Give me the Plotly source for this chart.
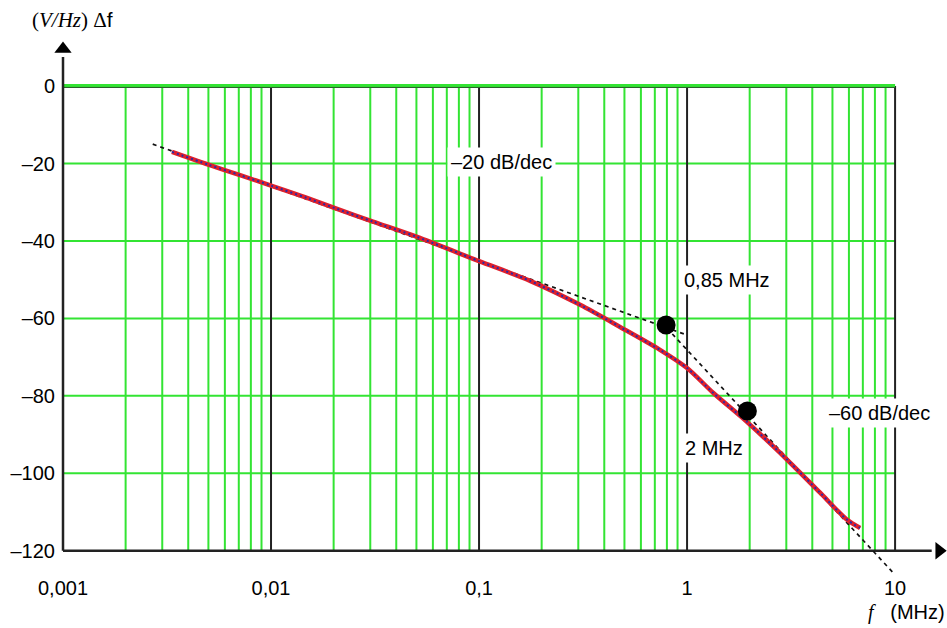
import math
import plotly.graph_objects as go

# ---------------- data ----------------
freq_mhz = [0.00334, 0.005, 0.0071, 0.01, 0.0149, 0.02, 0.0309, 0.05,
            0.1, 0.176, 0.306, 0.476, 0.741, 1.0, 1.334, 1.94, 3.03, 4.36,
            5.88, 6.79]
gain_db = [-17.0, -20.3, -23.0, -25.7, -28.9, -31.4, -35.0, -38.9,
           -45.2, -50.3, -56.5, -62.2, -68.1, -72.8, -79.2, -86.7, -96.5,
           -105.0, -112.0, -114.1]

asym20_f = [0.0027, 1.0]
asym20_db = [-15.0, -64.3]
asym60_f = [0.8, 9.8]
asym60_db = [-62.5, -125.7]

corner_f = [0.793, 1.95]
corner_db = [-61.7, -83.9]

x_ticks = [0.001, 0.01, 0.1, 1, 10]
x_ticktext = ["0,001", "0,01", "0,1", "1", "10"]
y_ticks = [0, -20, -40, -60, -80, -100, -120]
y_ticktext = ["0", "–20", "–40", "–60", "–80", "–100", "–120"]

labels = [
    ("–20 dB/dec", 0.070, -19.6),
    ("0,85 MHz", 0.925, -50.1),
    ("2 MHz", 0.93, -93.4),
    ("–60 dB/dec", 4.6, -84.4),
]

GREEN = "#33e433"
DARK = "#222222"
FONT = "Liberation Sans, Arial, sans-serif"
SERIF = "Liberation Serif, Times New Roman, serif"

fig = go.Figure()

def add_lines(xs, ys, color, width, dash=None, clip=True):
    fig.add_trace(go.Scatter(x=xs, y=ys, mode="lines", cliponaxis=clip,
                             line=dict(color=color, width=width, dash=dash),
                             hoverinfo="skip", showlegend=False))

# minor vertical grid lines (green)
gx, gy = [], []
for d in [0.001, 0.01, 0.1, 1]:
    for k in range(2, 10):
        gx += [k * d, k * d, None]
        gy += [-120, 0, None]
add_lines(gx, gy, GREEN, 2)
# horizontal grid lines (green)
hx, hy = [], []
for v in [-20, -40, -60, -80, -100]:
    hx += [0.001, 10, None]
    hy += [v, v, None]
add_lines(hx, hy, GREEN, 2)
# major vertical lines (black)
mx, my = [], []
for d in [0.01, 0.1, 1, 10]:
    mx += [d, d, None]
    my += [-120, 0, None]
add_lines(mx, my, DARK, 2)
# top line at 0
add_lines([0.001, 10], [0, 0], GREEN, 4)
add_lines([0.001, 10], [-0.35, -0.35], "#2a5a2a", 1)
# axes lines
add_lines([0.001, 15.0], [-120, -120], DARK, 2.5)
add_lines([0.001, 0.001], [-120, 7.5], DARK, 2.5)
# arrow heads
fig.add_trace(go.Scatter(x=[0.001], y=[9.6], mode="markers", cliponaxis=False,
                         marker=dict(symbol="triangle-up", size=15, color="black"),
                         hoverinfo="skip", showlegend=False))
fig.add_trace(go.Scatter(x=[16.3], y=[-120], mode="markers", cliponaxis=False,
                         marker=dict(symbol="triangle-right", size=15, color="black"),
                         hoverinfo="skip", showlegend=False))

# asymptotes
add_lines(asym20_f, asym20_db, "#111111", 1.7, "4px,4px")
add_lines(asym60_f, asym60_db, "#111111", 1.7, "4px,4px")

# measured curve
fig.add_trace(go.Scatter(x=freq_mhz, y=gain_db, mode="lines", line_shape="spline",
                         line=dict(color="#e0202c", width=4.5, smoothing=0.8),
                         hoverinfo="skip", showlegend=False))
fig.add_trace(go.Scatter(x=freq_mhz, y=gain_db, mode="lines", line_shape="spline",
                         line=dict(color="#2a2aa8", width=2, dash="2px,3px", smoothing=0.8),
                         hoverinfo="skip", showlegend=False))

# corner points
fig.add_trace(go.Scatter(x=corner_f, y=corner_db, mode="markers",
                         marker=dict(size=19, color="black"),
                         hoverinfo="skip", showlegend=False))

for text, lx, ly in labels:
    fig.add_annotation(x=math.log10(lx), y=ly, xref="x", yref="y",
                       text=text, showarrow=False, xanchor="left", yanchor="middle",
                       bgcolor="white", borderpad=3,
                       font=dict(family=FONT, size=20, color="black"))

# axis titles
fig.add_annotation(xref="paper", yref="paper", x=-0.0340, y=1.037,
                   xanchor="left", yanchor="middle", showarrow=False,
                   text="(<i>V/Hz</i>) Δ<span style='font-family:Liberation Sans'>f</span>",
                   font=dict(family=SERIF, size=21, color="black"))
fig.add_annotation(xref="paper", yref="paper", x=1.0023, y=-0.0712,
                   xanchor="right", yanchor="middle", showarrow=False,
                   text="<span style='font-family:Liberation Serif'><i>f</i></span>   (MHz)",
                   font=dict(family=FONT, size=20, color="black"))

# body margin removed so the figure fills the 947x628 window
fig.update_layout(
    width=947, height=628,
    margin=dict(l=60, r=2, t=40, b=54, autoexpand=False),
    paper_bgcolor="white", plot_bgcolor="white",
    font=dict(family=FONT, size=20, color="black"),
    xaxis=dict(type="log", range=[-3.0144, 1.24], showgrid=False, zeroline=False,
               showline=False, ticks="", tickvals=x_ticks, ticktext=x_ticktext,
               automargin=False, tickfont=dict(size=20)),
    yaxis=dict(range=[-126, 11.9], showgrid=False, zeroline=False, showline=False,
               ticks="", tickvals=y_ticks, ticktext=y_ticktext, automargin=False,
               ticklabelstandoff=4, tickfont=dict(size=20)),
)

fig.write_html(
    "out.html",
    config={"displayModeBar": False},
    post_script="document.documentElement.style.overflow='hidden';"
                "document.body.style.overflow='hidden';"
                "document.body.style.margin='0';",
)
